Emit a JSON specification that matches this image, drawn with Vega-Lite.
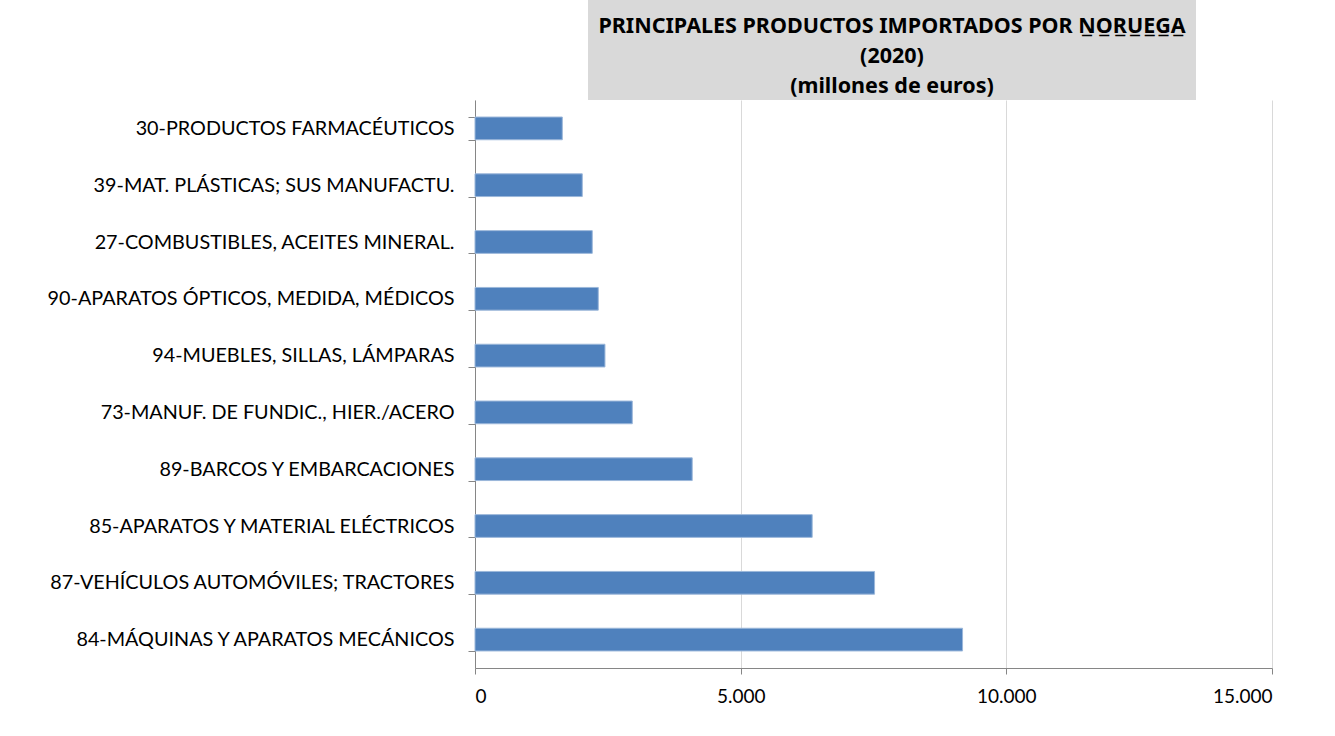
{
  "$schema": "https://vega.github.io/schema/vega-lite/v6.json",
  "padding": {"left": 47, "top": 0, "right": 30, "bottom": 27},
  "background": "white",
  "config": {"view": {"stroke": null}, "font": "Lato"},
  "spacing": -14,
  "vconcat": [
    {
      "spacing": 0,
      "hconcat": [
        {
          "width": 113,
          "height": 100,
          "data": {"values": [{"t": ""}]},
          "mark": {"type": "text"},
          "encoding": {"text": {"field": "t"}}
        },
        {
          "width": 608,
          "height": 100,
          "view": {"fill": "#d9d9d9", "stroke": null},
          "data": {
            "values": [
              {"linea": 1, "texto": "PRINCIPALES PRODUCTOS IMPORTADOS POR N\u0332O\u0332R\u0332U\u0332E\u0332G\u0332A\u0332"},
              {"linea": 2, "texto": "(2020)"},
              {"linea": 3, "texto": "(millones de euros)"}
            ]
          },
          "mark": {"type": "text", "fontWeight": "bold", "fontSize": 21.5, "font": "Noto Sans", "color": "#000000", "baseline": "middle", "dy": 7},
          "encoding": {
            "y": {"field": "linea", "type": "ordinal", "axis": null, "scale": {"type": "point", "padding": 0.64}},
            "text": {"field": "texto"}
          }
        }
      ]
    },
    {
      "width": 797,
      "height": 568,
      "data": {
        "values": [
          {"producto": "30-PRODUCTOS FARMACÉUTICOS", "valor": 1643},
          {"producto": "39-MAT. PLÁSTICAS; SUS MANUFACTU.", "valor": 2019},
          {"producto": "27-COMBUSTIBLES, ACEITES MINERAL.", "valor": 2207},
          {"producto": "90-APARATOS ÓPTICOS, MEDIDA, MÉDICOS", "valor": 2320},
          {"producto": "94-MUEBLES, SILLAS, LÁMPARAS", "valor": 2446},
          {"producto": "73-MANUF. DE FUNDIC., HIER./ACERO", "valor": 2960},
          {"producto": "89-BARCOS Y EMBARCACIONES", "valor": 4088},
          {"producto": "85-APARATOS Y MATERIAL ELÉCTRICOS", "valor": 6346},
          {"producto": "87-VEHÍCULOS AUTOMÓVILES; TRACTORES", "valor": 7520},
          {"producto": "84-MÁQUINAS Y APARATOS MECÁNICOS", "valor": 9176}
        ]
      },
      "mark": {"type": "bar", "color": "#4f81bd", "stroke": "#9bb7da", "strokeWidth": 1},
      "encoding": {
        "y": {
          "field": "producto",
          "type": "nominal",
          "sort": {"field": "valor", "order": "ascending"},
          "scale": {"paddingInner": 0.6, "paddingOuter": 0.3},
          "axis": {
            "title": null,
            "tickBand": "extent",
            "labelFontSize": 19.8,
            "labelColor": "#000000",
            "labelPadding": 14,
            "labelLimit": 600,
            "tickSize": 7,
            "tickColor": "#868686",
            "domainColor": "#868686",
            "grid": false
          }
        },
        "x": {
          "field": "valor",
          "type": "quantitative",
          "scale": {"domain": [0, 15000], "nice": false},
          "axis": {
            "title": null,
            "values": [0, 5000, 10000, 15000],
            "labelExpr": "replace(format(datum.value, ','), ',', '.')",
            "grid": true,
            "gridColor": "#d9d9d9",
            "domainColor": "#868686",
            "tickColor": "#868686",
            "tickSize": 6,
            "labelFontSize": 19,
            "labelPadding": 13,
            "labelColor": "#000000"
          }
        }
      }
    }
  ]
}
